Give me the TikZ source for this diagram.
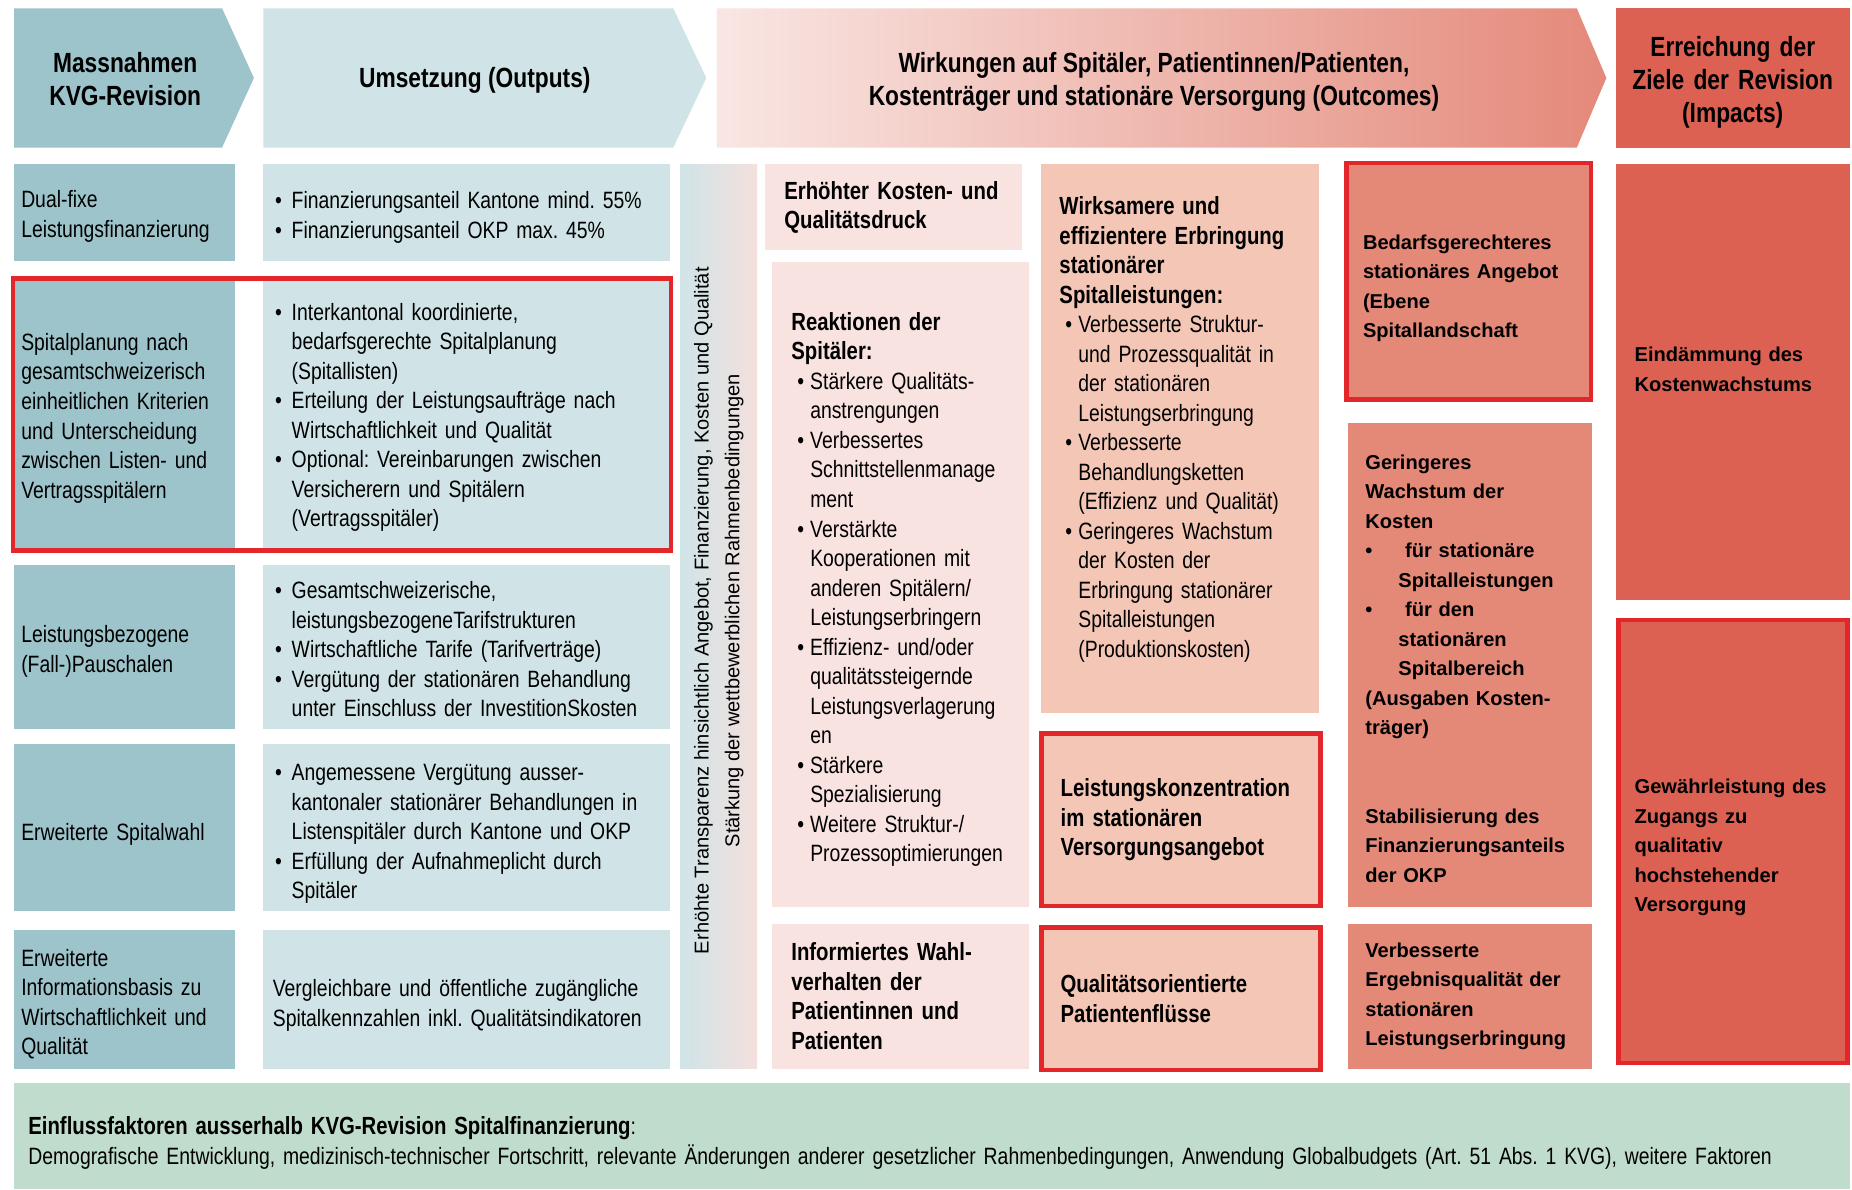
\documentclass[tikz,border=0pt]{standalone}
\usepackage{fontspec}
\setmainfont{Liberation Sans}
\newfontfamily\narrow[FakeStretch=0.82]{Liberation Sans}
\usetikzlibrary{fit}
\frenchspacing

\definecolor{tealdark}{HTML}{9DC3CB}
\definecolor{teallight}{HTML}{D0E4E8}
\definecolor{pinklight}{HTML}{F8E3E0}
\definecolor{barpink}{HTML}{F4E0DD}
\definecolor{peach}{HTML}{F3C6B6}
\definecolor{salmon}{HTML}{E48878}
\definecolor{impactred}{HTML}{DC6152}
\definecolor{framered}{HTML}{E3262A}
\definecolor{mint}{HTML}{C0DCCC}
\definecolor{arrowpink}{HTML}{F9E6E3}
\definecolor{arrowsalmon}{HTML}{E4897A}

\newcommand{\fnarrow}{\narrow\fontsize{20}{25}\selectfont}
\newcommand{\fnarrowbf}{\narrow\bfseries\fontsize{21}{25}\selectfont}
\newcommand{\fwide}{\bfseries\fontsize{17}{25}\selectfont}
\newcommand{\fhead}{\narrow\bfseries\fontsize{23.5}{28}\selectfont}
% bullet at the left edge
\newcommand{\bitem}[1][14pt]{\par\hangindent=#1\hangafter=1\noindent\hbox to #1{\textbullet\hss}}
% bullet a bit indented
\newcommand{\sitem}{\par\hangindent=16pt\hangafter=1\noindent\hbox to 16pt{\hskip 5pt\textbullet\hss}}
% struts to move text inside a cell
\newcommand{\hdrop}[1]{\rule{0pt}{#1}}
\newcommand{\hlift}[1]{\rule[-#1]{0pt}{#1}}

\tikzset{
  cell/.style={anchor=north west, inner ysep=0pt, outer sep=0pt, align=left, font=\fnarrow},
  mass/.style={cell, fill=tealdark, text width=175pt, inner xsep=6pt},
  umset/.style={cell, fill=teallight, text width=324pt, inner xsep=10pt},
  reakt/.style={cell, fill=pinklight, text width=185pt, inner xsep=16pt},
  wirk/.style={cell, fill=peach, text width=204pt, inner xsep=16pt},
  ziel/.style={cell, fill=salmon, text width=179pt, inner xsep=14pt, font=\fwide},
  impact/.style={cell, fill=impactred, text width=166pt, inner xsep=14pt, font=\fwide},
  redframe/.style={draw=framered, line width=4pt},
  headtxt/.style={align=center, font=\fhead},
}

\begin{document}
\begin{tikzpicture}[x=1pt, y=-1pt]
\path[fill=white, use as bounding box] (0,0) rectangle (1568,1007);

% header arrows
\fill[tealdark] (12,7) -- (188,7) -- (215,66) -- (188,125) -- (12,125) -- cycle;
\fill[teallight] (223,7) -- (570,7) -- (598,66) -- (570,125) -- (223,125) -- cycle;
\shade[left color=arrowpink, right color=arrowsalmon] (607,7) -- (1335,7) -- (1360,66) -- (1335,125) -- (607,125) -- cycle;
\node[headtxt] (h1) at (106,67) {Massnahmen\\KVG-Revision};
\node[headtxt] (h2) at (402,68) {Umsetzung (Outputs)};
\node[headtxt] (h3) at (977,69) {Wirkungen auf Spitäler, Patientinnen/Patienten,\\Kostenträger und stationäre Versorgung (Outcomes)};
\node[cell, fill=impactred, minimum width=198, minimum height=118, text width=190pt, inner xsep=4pt, align=center, font=\fhead] (h4) at (1368,7) {\hdrop{25pt}Erreichung der\\Ziele der Revision\\(Impacts)};

% massnahmen
\node[mass, minimum height=82] (m1) at (12,139) {\hdrop{20.5pt}Dual-fixe\\Leistungsfinanzierung};
\node[mass, minimum height=228] (m2) at (12,237) {\hdrop{20.5pt}Spitalplanung nach\\gesamtschweizerisch\\einheitlichen Kriterien\\und Unterscheidung\\zwischen Listen- und\\Vertragsspitälern};
\node[mass, minimum height=139] (m3) at (12,478) {\hdrop{22.5pt}Leistungsbezogene\\(Fall-)Pauschalen};
\node[mass, minimum height=141] (m4) at (12,630) {\hdrop{26.5pt}Erweiterte Spitalwahl};
\node[mass, minimum height=118] (m5) at (12,787) {\hdrop{22.5pt}Erweiterte\\Informationsbasis zu\\Wirtschaftlichkeit und\\Qualität};

% umsetzung
\node[umset, minimum height=82] (u1) at (223,139) {\bitem Finanzierungsanteil Kantone mind. 55\%\bitem Finanzierungsanteil OKP max. 45\%\hlift{6.5pt}\par};
\node[umset, minimum height=228] (u2) at (223,237) {\bitem Interkantonal koordinierte,\newline bedarfsgerechte Spitalplanung\newline (Spitallisten)\bitem Erteilung der Leistungsaufträge nach\newline Wirtschaftlichkeit und Qualität\bitem Optional: Vereinbarungen zwischen\newline Versicherern und Spitälern\newline (Vertragsspitäler)\hlift{10pt}\par};
\node[umset, minimum height=139] (u3) at (223,478) {\bitem Gesamtschweizerische,\newline leistungsbezogeneTarifstrukturen\bitem Wirtschaftliche Tarife (Tarifverträge)\bitem Vergütung der stationären Behandlung\newline unter Einschluss der InvestitionSkosten\hlift{6pt}\par};
\node[umset, minimum height=141] (u4) at (223,630) {\bitem Angemessene Vergütung ausser-\newline kantonaler stationärer Behandlungen in\newline Listenspitäler durch Kantone und OKP\bitem Erfüllung der Aufnahmeplicht durch\newline Spitäler\par};
\node[umset, minimum height=118, inner xsep=8pt, text width=328pt] (u5) at (223,787) {\hdrop{24.5pt}Vergleichbare und öffentliche zugängliche\\Spitalkennzahlen inkl. Qualitätsindikatoren};
\node[redframe, fit=(m2)(u2), inner sep=1pt] (planframe) {};

% transparenz
\node[cell, minimum width=65, minimum height=766, left color=teallight, right color=barpink] (transp) at (576,139) {};
\node[rotate=90, align=center, font=\fontsize{17}{26}\selectfont] (transptxt) at ([yshift=5pt]transp.center) {Erhöhte Transparenz hinsichtlich Angebot, Finanzierung, Kosten und Qualität\\Stärkung der wettbewerblichen Rahmenbedingungen};

% wirkungen
\node[reakt, minimum height=73, font=\fnarrowbf, text width=185pt] (k1) at (648,139) {Erhöhter Kosten- und\\Qualitätsdruck};
\node[reakt, minimum height=546] (k2) at (654,222) {{\fnarrowbf\hdrop{23.5pt}Reaktionen der\\Spitäler:}\sitem Stärkere Qualitäts-\newline anstrengungen\sitem Verbessertes\newline Schnittstellenmanage\newline ment\sitem Verstärkte\newline Kooperationen mit\newline anderen Spitälern/\newline Leistungserbringern\sitem Effizienz- und/oder\newline qualitätssteigernde\newline Leistungsverlagerung\newline en\sitem Stärkere\newline Spezialisierung\sitem Weitere Struktur-/\newline Prozessoptimierungen\par};
\node[reakt, minimum height=123, font=\fnarrowbf] (k3) at (654,782) {Informiertes Wahl-\\verhalten der\\Patientinnen und\\Patienten};
\node[wirk, minimum height=465] (w1) at (881,139) {{\fnarrowbf Wirksamere und\\effizientere Erbringung\\stationärer\\Spitalleistungen:}\sitem Verbesserte Struktur-\newline und Prozessqualität in\newline der stationären\newline Leistungserbringung\sitem Verbesserte\newline Behandlungsketten\newline (Effizienz und Qualität)\sitem Geringeres Wachstum\newline der Kosten der\newline Erbringung stationärer\newline Spitalleistungen\newline (Produktionskosten)\hlift{20pt}\par};
\node[wirk, redframe, minimum height=146, font=\fnarrowbf] (w2) at (882,621) {Leistungskonzentration\\im stationären\\Versorgungsangebot};
\node[wirk, redframe, minimum height=121, font=\fnarrowbf] (w3) at (882,785) {Qualitätsorientierte\\Patientenflüsse};

% ziele
\node[ziel, redframe, minimum height=200] (z1) at (1140,138) {\hdrop{24.5pt}Bedarfsgerechteres\\stationäres Angebot\\(Ebene\\Spitallandschaft};
\node[ziel, minimum height=410, inner xsep=15pt, text width=177pt] (z2) at (1141,358) {\hdrop{18.5pt}Geringeres\\Wachstum der\\Kosten\bitem[28pt] für stationäre\newline Spitalleistungen\bitem[28pt] für den\newline stationären\newline Spitalbereich\par\noindent(Ausgaben Kosten-\\träger)\par\vspace{50pt}\noindent Stabilisierung des\\Finanzierungsanteils\\der OKP};
\node[ziel, minimum height=123, inner xsep=15pt, text width=177pt] (z3) at (1141,782) {Verbesserte\\Ergebnisqualität der\\stationären\\Leistungserbringung};

% impacts
\node[impact, minimum height=369, inner xsep=16pt] (i1) at (1368,139) {Eindämmung des\\Kostenwachstums\hlift{22pt}};
\node[impact, redframe, minimum height=375] (i2) at (1370,525) {\hdrop{22.5pt}Gewährleistung des\\Zugangs zu\\qualitativ\\hochstehender\\Versorgung};

% einflussfaktoren
\node[cell, fill=mint, minimum height=90, text width=1530pt, inner xsep=12pt] (einfl) at (12,917) {{\fnarrowbf\hdrop{27pt}Einflussfaktoren ausserhalb KVG-Revision Spitalfinanzierung}:\\\makebox[1492pt][s]{Demografische Entwicklung, medizinisch-technischer Fortschritt, relevante Änderungen anderer gesetzlicher Rahmenbedingungen, Anwendung Globalbudgets (Art. 51 Abs. 1 KVG), weitere Faktoren}};
\end{tikzpicture}
\end{document}
